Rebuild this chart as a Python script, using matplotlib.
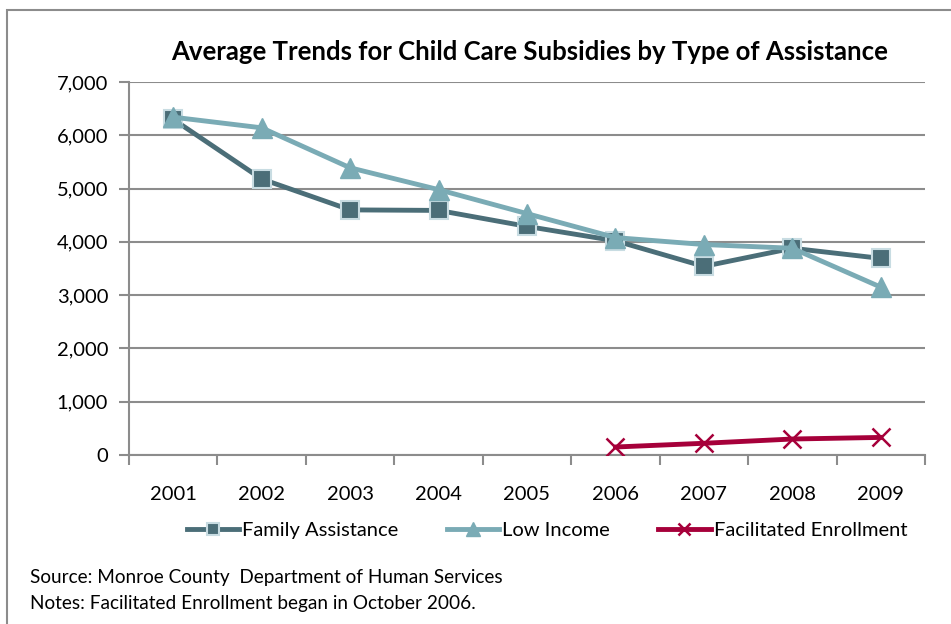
import matplotlib
matplotlib.use("Agg")
import matplotlib.pyplot as plt
from matplotlib.patches import Rectangle
from matplotlib.ticker import FuncFormatter, FixedLocator
import numpy as np

years = ["2001", "2002", "2003", "2004", "2005", "2006", "2007", "2008", "2009"]
family_assistance = [6300, 5180, 4600, 4590, 4290, 4020, 3540, 3880, 3690]
low_income = [6340, 6140, 5390, 4980, 4530, 4080, 3950, 3880, 3150]
fe_years = ["2006", "2007", "2008", "2009"]
facilitated_enrollment = [150, 220, 300, 330]

plt.rcParams['font.family'] = ['Lato', 'DejaVu Sans']

fig = plt.figure(figsize=(9.51, 6.24), dpi=100)
W, H = 951, 624
fig.patches.append(Rectangle((7 / W, -0.1), 1.2, 1 - 10 / H + 0.1, transform=fig.transFigure,
                             fill=False, edgecolor='#8c8c8c', linewidth=1.5))

ax = fig.add_axes([129 / W, 1 - 455 / H, (925 - 129) / W, (455 - 82) / H])
x = np.arange(len(years))
xf = np.array([years.index(y) for y in fe_years])

ax.plot(x, family_assistance, color='#4B6E78', lw=3.5, marker='s', ms=13,
        mfc='#4B6E78', mec='#C8DCE2', mew=1.5, label='Family Assistance', zorder=3)
ax.plot(x, low_income, color='#7AABB5', lw=3.5, marker='^', ms=14,
        mfc='#7AABB5', mec='#7AABB5', mew=1, label='Low Income', zorder=4)
ax.plot(xf, facilitated_enrollment, color='#A6003A', lw=3.5, marker='x', ms=13,
        mew=1.8, mec='#A6003A', label='Facilitated Enrollment', zorder=5)

ax.set_xlim(-0.5, len(years) - 0.5)
ax.set_ylim(0, 7000)
ax.set_yticks(np.arange(0, 7001, 1000))
ax.yaxis.set_major_formatter(FuncFormatter(lambda v, p: f"{int(v):,}"))
ax.grid(axis='y', color='#8c8c8c', lw=1.5)
ax.set_axisbelow(True)
ax.set_xticks(x)
ax.set_xticklabels(years)
ax.xaxis.set_minor_locator(FixedLocator(np.arange(-0.5, len(years), 1)))
ax.tick_params(axis='x', which='major', length=0, pad=22, labelsize=14.5)
ax.tick_params(axis='x', which='minor', length=7, width=1.5, color='#8c8c8c')
ax.tick_params(axis='y', length=7, width=1.5, color='#8c8c8c', pad=8, labelsize=14.5)
for s in ['top', 'right']:
    ax.spines[s].set_visible(False)
for s in ['left', 'bottom']:
    ax.spines[s].set_color('#8c8c8c')
    ax.spines[s].set_linewidth(1.5)

fig.text(530 / W, 1 - 52 / H, "Average Trends for Child Care Subsidies by Type of Assistance",
         ha='center', va='center', fontsize=18.5, fontweight='bold')

ax.legend(loc='center', bbox_to_anchor=(547 / W, 1 - 530 / H), bbox_transform=fig.transFigure,
          ncol=3, frameon=False, fontsize=14.5, handlelength=2.6, columnspacing=2.4,
          handletextpad=0.15, markerscale=0.7)

fig.text(30 / W, 1 - 577 / H, "Source: Monroe County  Department of Human Services",
         ha='left', va='center', fontsize=13.7)
fig.text(30 / W, 1 - 603 / H, "Notes: Facilitated Enrollment began in October 2006.",
         ha='left', va='center', fontsize=13.7)

fig.savefig("out.png", dpi=100)
